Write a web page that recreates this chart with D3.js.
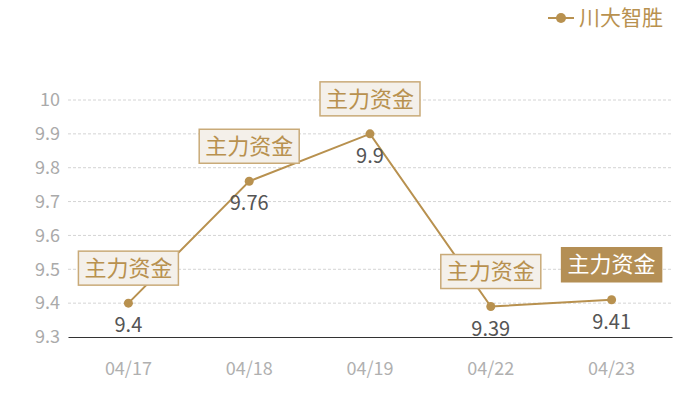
<!DOCTYPE html>
<html>
<head>
<meta charset="utf-8">
<script src="https://cdn.jsdelivr.net/npm/d3@7"></script>
<style>
  body { margin: 0; background: #fff; }
  text { font-family: "Noto Sans CJK SC", "Noto Sans", sans-serif; }
</style>
</head>
<body>
<div id="container"></div>
<script>
/**
 * CONSTANTS AND DATA
 * */
const width = 700,
  height = 400,
  margin = { top: 100, bottom: 63, left: 68, right: 28 };

const dates = ["04/17", "04/18", "04/19", "04/22", "04/23"];
const prices = [9.4, 9.76, 9.9, 9.39, 9.41];
const flags = ["主力资金", "主力资金", "主力资金", "主力资金", "主力资金"];
const yTicks = [9.3, 9.4, 9.5, 9.6, 9.7, 9.8, 9.9, 10];
const seriesName = "川大智胜";

const gold = "#b8914f";

const svg = d3.select("#container")
  .append("svg")
  .attr("width", width)
  .attr("height", height);

const x = d3.scaleBand()
  .domain(dates)
  .range([margin.left, width - margin.right]);

const y = d3.scaleLinear()
  .domain([9.3, 10])
  .range([height - margin.bottom, margin.top]);

const cx = d => x(d) + x.bandwidth() / 2;

// grid lines
svg.append("g")
  .selectAll("line")
  .data(yTicks.slice(1))
  .join("line")
  .attr("x1", margin.left)
  .attr("x2", width - margin.right)
  .attr("y1", d => y(d))
  .attr("y2", d => y(d))
  .attr("stroke", "#d4d4d4")
  .attr("stroke-dasharray", "3,2");

// y axis labels
svg.append("g")
  .selectAll("text")
  .data(yTicks)
  .join("text")
  .attr("x", margin.left - 8)
  .attr("y", d => y(d))
  .attr("dy", "0.35em")
  .attr("text-anchor", "end")
  .attr("fill", "#aaaaaa")
  .attr("font-size", 18)
  .text(d => d);

// x axis
const xAxis = svg.append("g")
  .attr("transform", `translate(0,${y(9.3)})`)
  .call(d3.axisBottom(x).tickSize(0).tickPadding(25));
xAxis.select(".domain").attr("stroke", "#333").attr("stroke-width", 1.2);
xAxis.selectAll("text")
  .attr("fill", "#b0b0b0")
  .attr("font-size", 18)
  .style("font-family", "'Noto Sans CJK SC', sans-serif");

// line
const points = dates.map((d, i) => ({ date: d, value: prices[i], flag: flags[i], last: i === dates.length - 1 }));

svg.append("path")
  .datum(points)
  .attr("fill", "none")
  .attr("stroke", gold)
  .attr("stroke-width", 2)
  .attr("d", d3.line().x(d => cx(d.date)).y(d => y(d.value)));

svg.append("g")
  .selectAll("circle")
  .data(points)
  .join("circle")
  .attr("cx", d => cx(d.date))
  .attr("cy", d => y(d.value))
  .attr("r", 4.5)
  .attr("fill", gold);

// value labels
svg.append("g")
  .selectAll("text")
  .data(points)
  .join("text")
  .attr("x", d => cx(d.date))
  .attr("y", d => y(d.value) + 22)
  .attr("dy", "0.35em")
  .attr("text-anchor", "middle")
  .attr("fill", "#555")
  .attr("font-size", 20)
  .text(d => d.value);

// flag boxes
const flag = svg.append("g")
  .selectAll("g")
  .data(points)
  .join("g")
  .attr("transform", d => `translate(${cx(d.date)},${y(d.value) - 35})`);

flag.append("rect")
  .attr("x", -50)
  .attr("y", -17)
  .attr("width", 100)
  .attr("height", 34)
  .attr("fill", d => d.last ? "#b48f55" : "#f4f0ea")
  .attr("stroke", d => d.last ? "#b48f55" : "#c9aa78")
  .attr("stroke-width", 1.5);

flag.append("text")
  .attr("text-anchor", "middle")
  .attr("dy", "0.35em")
  .attr("font-size", 22)
  .attr("fill", d => d.last ? "#fff" : gold)
  .text(d => d.flag);

// legend
const legend = svg.append("g").attr("transform", "translate(548,18)");
legend.append("line")
  .attr("x1", 0).attr("x2", 26)
  .attr("stroke", gold).attr("stroke-width", 2);
legend.append("circle")
  .attr("cx", 13).attr("r", 5)
  .attr("fill", gold);
legend.append("text")
  .attr("x", 31)
  .attr("dy", "0.35em")
  .attr("font-size", 21)
  .attr("fill", gold)
  .text(seriesName);
</script>
</body>
</html>
